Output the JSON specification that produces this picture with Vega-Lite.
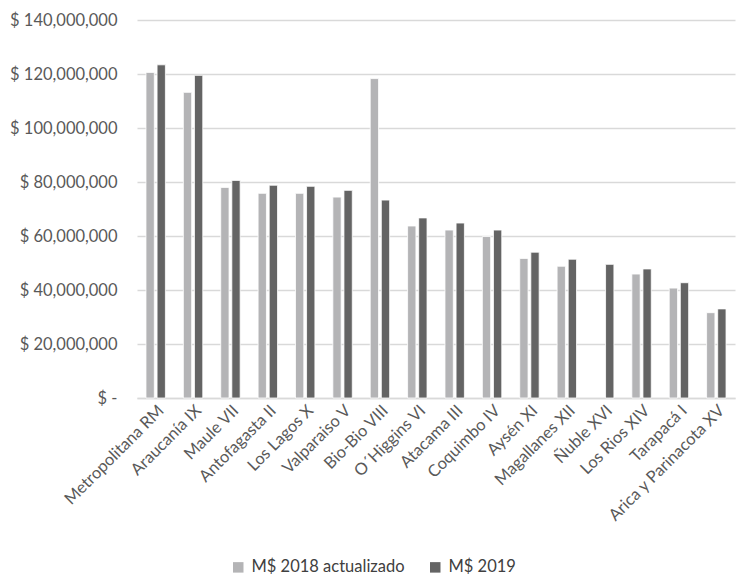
{
  "$schema": "https://vega.github.io/schema/vega-lite/v6.json",
  "width": 598,
  "height": 378,
  "autosize": "none",
  "padding": {"left": 137, "top": 20, "right": 2, "bottom": 182},
  "background": "#ffffff",
  "config": {
    "font": "Lato",
    "view": {"stroke": null},
    "axis": {"labelFont": "Lato", "labelColor": "#595959"},
    "legend": {"labelFont": "Lato", "labelColor": "#404040"}
  },
  "data": {
    "values": [
      {"region": "Metropolitana RM", "serie": "M$ 2018 actualizado", "monto": 120600000},
      {"region": "Metropolitana RM", "serie": "M$ 2019", "monto": 123400000},
      {"region": "Araucanía IX", "serie": "M$ 2018 actualizado", "monto": 113200000},
      {"region": "Araucanía IX", "serie": "M$ 2019", "monto": 119500000},
      {"region": "Maule VII", "serie": "M$ 2018 actualizado", "monto": 78000000},
      {"region": "Maule VII", "serie": "M$ 2019", "monto": 80600000},
      {"region": "Antofagasta II", "serie": "M$ 2018 actualizado", "monto": 75800000},
      {"region": "Antofagasta II", "serie": "M$ 2019", "monto": 78800000},
      {"region": "Los Lagos X", "serie": "M$ 2018 actualizado", "monto": 75800000},
      {"region": "Los Lagos X", "serie": "M$ 2019", "monto": 78400000},
      {"region": "Valparaiso V", "serie": "M$ 2018 actualizado", "monto": 74400000},
      {"region": "Valparaiso V", "serie": "M$ 2019", "monto": 76900000},
      {"region": "Bio-Bio VIII", "serie": "M$ 2018 actualizado", "monto": 118300000},
      {"region": "Bio-Bio VIII", "serie": "M$ 2019", "monto": 73300000},
      {"region": "O´Higgins VI", "serie": "M$ 2018 actualizado", "monto": 63700000},
      {"region": "O´Higgins VI", "serie": "M$ 2019", "monto": 66700000},
      {"region": "Atacama III", "serie": "M$ 2018 actualizado", "monto": 62200000},
      {"region": "Atacama III", "serie": "M$ 2019", "monto": 64800000},
      {"region": "Coquimbo IV", "serie": "M$ 2018 actualizado", "monto": 59800000},
      {"region": "Coquimbo IV", "serie": "M$ 2019", "monto": 62200000},
      {"region": "Aysén XI", "serie": "M$ 2018 actualizado", "monto": 51700000},
      {"region": "Aysén XI", "serie": "M$ 2019", "monto": 54000000},
      {"region": "Magallanes XII", "serie": "M$ 2018 actualizado", "monto": 48800000},
      {"region": "Magallanes XII", "serie": "M$ 2019", "monto": 51400000},
      {"region": "Ñuble XVI", "serie": "M$ 2019", "monto": 49500000},
      {"region": "Los Rios XIV", "serie": "M$ 2018 actualizado", "monto": 45900000},
      {"region": "Los Rios XIV", "serie": "M$ 2019", "monto": 47800000},
      {"region": "Tarapacá I", "serie": "M$ 2018 actualizado", "monto": 40700000},
      {"region": "Tarapacá I", "serie": "M$ 2019", "monto": 42700000},
      {"region": "Arica y Parinacota XV", "serie": "M$ 2018 actualizado", "monto": 31600000},
      {"region": "Arica y Parinacota XV", "serie": "M$ 2019", "monto": 33000000}
    ]
  },
  "mark": {"type": "bar", "stroke": "#ffffff", "strokeWidth": 0.8},
  "encoding": {
    "x": {
      "field": "region",
      "type": "nominal",
      "sort": null,
      "scale": {"paddingInner": 0.48, "paddingOuter": 0.24},
      "axis": {
        "title": null,
        "labelAngle": -45,
        "labelFontSize": 16.5,
        "labelPadding": 4,
        "ticks": false,
        "domainColor": "#d9d9d9",
        "domainWidth": 1.5,
        "labelLimit": 300
      }
    },
    "xOffset": {
      "field": "serie",
      "type": "nominal",
      "scale": {"domain": ["M$ 2018 actualizado", "M$ 2019"], "paddingInner": 0.25}
    },
    "y": {
      "field": "monto",
      "type": "quantitative",
      "scale": {"domain": [0, 140000000], "nice": false},
      "axis": {
        "title": null,
        "values": [0, 20000000, 40000000, 60000000, 80000000, 100000000, 120000000, 140000000],
        "labelExpr": "datum.value == 0 ? '$ -    ' : '$ ' + format(datum.value, ',')",
        "labelFontSize": 16.5,
        "labelPadding": 20,
        "ticks": false,
        "domain": false,
        "gridColor": "#d9d9d9",
        "gridWidth": 1.5
      }
    },
    "color": {
      "field": "serie",
      "type": "nominal",
      "scale": {"domain": ["M$ 2018 actualizado", "M$ 2019"], "range": ["#b4b4b6", "#646464"]},
      "legend": {
        "title": null,
        "orient": "none",
        "direction": "horizontal",
        "legendX": 93,
        "legendY": 539,
        "symbolType": "square",
        "symbolSize": 110,
        "symbolStrokeWidth": 0,
        "labelFontSize": 16.5,
        "columnPadding": 22,
        "labelOffset": 5
      }
    }
  }
}
